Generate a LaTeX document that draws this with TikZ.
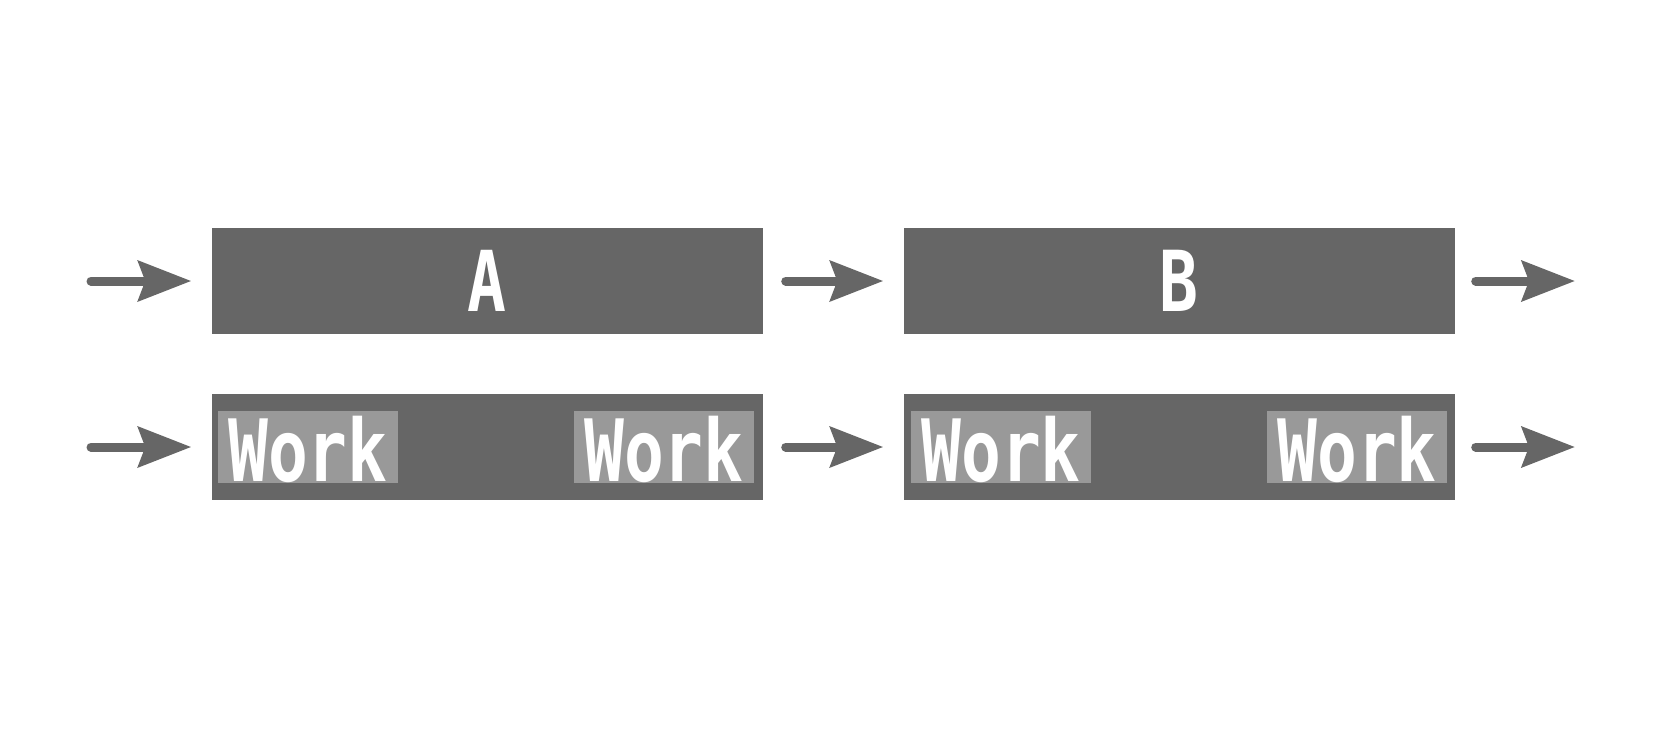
\documentclass[tikz,border=0pt]{standalone}
\usepackage{fontspec}
\usepackage{tikz}
\usetikzlibrary{arrows.meta}
\usetikzlibrary{positioning}
\newfontfamily\labelfont[FakeStretch=0.77]{DejaVu Sans Mono}
\definecolor{boxgray}{HTML}{666666}
\definecolor{workgray}{HTML}{999999}
\tikzset{stage/.style = {fill=boxgray, minimum width=551pt, minimum height=106pt, inner sep=0,
    text=white, font=\labelfont\bfseries\fontsize{84}{90}\selectfont}}
\tikzset{workbox/.style = {fill=workgray, minimum width=180pt, minimum height=72pt, inner sep=0,
    text height=68pt, text depth=0pt, text=white, font=\labelfont\bfseries\fontsize{86}{92}\selectfont}}
\tikzset{flow/.style = {draw=boxgray, line width=9pt, line cap=round,
    -{Stealth[length=53pt, width=40pt, inset=7pt]}}}

\begin{document}
\begin{tikzpicture}[x=1pt, y=-1pt]
  \useasboundingbox (0, 0) rectangle (1666, 729);
  \node [stage] (A) at (487, 281) {A};
  \node [stage] (B) at (1179, 281) {B};
  \node [stage] (A2) at (487, 447) {};
  \node [stage] (B2) at (1179, 447) {};
  \foreach \n/\x in {wa1/308, wa2/664, wb1/1001, wb2/1357} {
    \node [workbox] (\n) at (\x, 447) {Work};
  }
  \foreach \r/\y/\a/\b in {1/281/A/B, 2/447/A2/B2} {
    \coordinate (in\r) at (91, \y);
    \coordinate (out\r) at (1575, \y);
    \draw [flow, shorten >=20pt] (in\r) -- (\a);
    \draw [flow, shorten <=23pt, shorten >=20pt] (\a) -- (\b);
    \draw [flow, shorten <=21pt] (\b) -- (out\r);
  }
\end{tikzpicture}
\end{document}
